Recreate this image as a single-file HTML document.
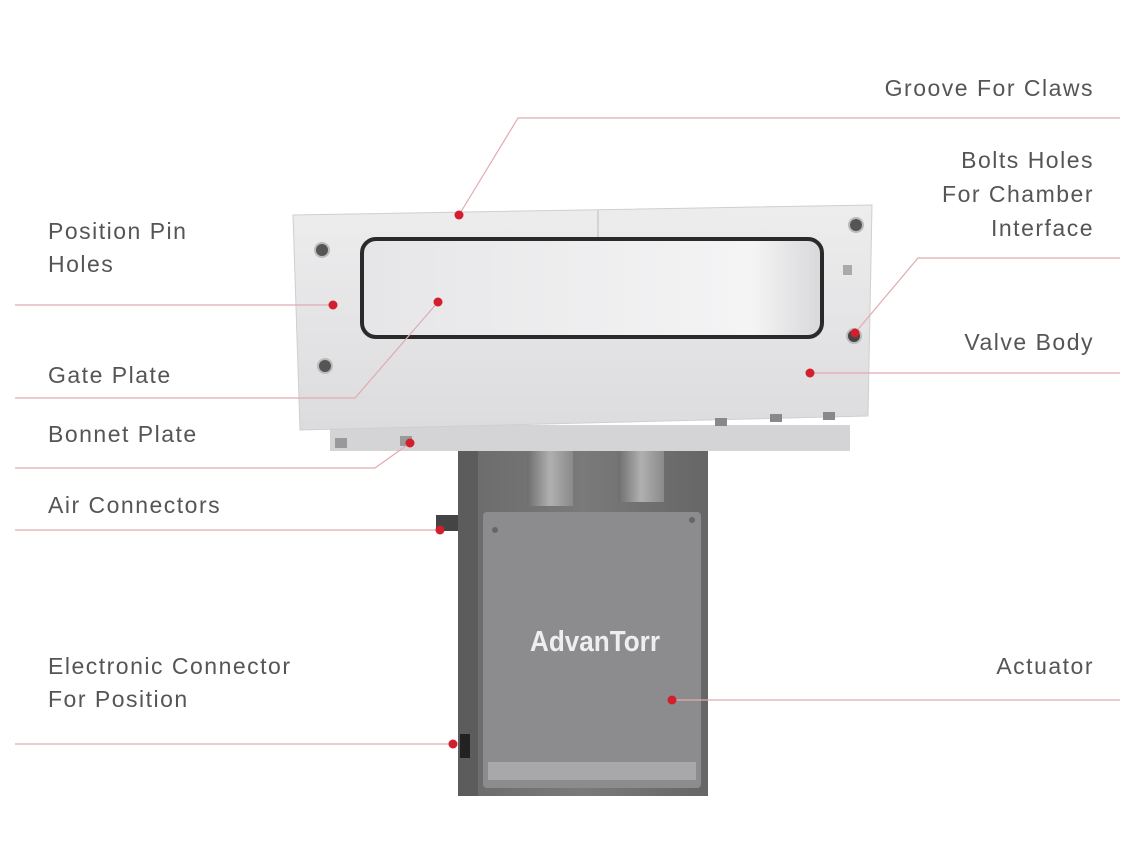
<!DOCTYPE html>
<html><head><style>
html,body{margin:0;padding:0;background:#fff;}
svg{display:block;}
text{font-family:"Liberation Sans",sans-serif;font-size:23px;fill:#555;letter-spacing:1.5px;}
</style></head><body>
<svg width="1134" height="859" viewBox="0 0 1134 859" xmlns="http://www.w3.org/2000/svg">
<defs>
<linearGradient id="body" x1="0" y1="0" x2="0" y2="1">
<stop offset="0" stop-color="#ededee"/><stop offset="1" stop-color="#dcdcde"/>
</linearGradient>
<linearGradient id="win" x1="0" y1="0" x2="1" y2="0">
<stop offset="0" stop-color="#e6e6e8"/><stop offset="0.85" stop-color="#f4f4f5"/><stop offset="1" stop-color="#d8d8da"/>
</linearGradient>
<linearGradient id="act" x1="0" y1="0" x2="1" y2="0">
<stop offset="0" stop-color="#6a6a6a"/><stop offset="0.5" stop-color="#7a7a7a"/><stop offset="1" stop-color="#666"/>
</linearGradient>
<linearGradient id="cyl" x1="0" y1="0" x2="1" y2="0">
<stop offset="0" stop-color="#6e6e6e"/><stop offset="0.5" stop-color="#b0b0b0"/><stop offset="1" stop-color="#8a8a8a"/>
</linearGradient>
</defs>

<rect x="458" y="438" width="250" height="358" fill="url(#act)"/>
<rect x="458" y="438" width="20" height="358" fill="#5c5c5c"/>
<rect x="527" y="440" width="46" height="66" fill="url(#cyl)"/>
<rect x="618" y="440" width="46" height="62" fill="url(#cyl)"/>
<rect x="483" y="512" width="218" height="276" rx="4" fill="#8c8c8e"/>
<rect x="488" y="762" width="208" height="18" fill="#a8a8aa"/>
<circle cx="495" cy="530" r="3" fill="#666"/><circle cx="692" cy="520" r="3" fill="#666"/>
<text x="530" y="651" style="font-size:29px;fill:#eeeeee;letter-spacing:0px;font-weight:bold" textLength="130" lengthAdjust="spacingAndGlyphs">AdvanTorr</text>
<rect x="436" y="515" width="22" height="16" fill="#444"/>
<rect x="460" y="734" width="10" height="24" fill="#222"/>

<rect x="330" y="425" width="520" height="26" fill="#d4d4d6"/>
<polygon points="293,215 872,205 868,416 300,430" fill="url(#body)" stroke="#cfcfd2"/>
<line x1="598" y1="210" x2="598" y2="245" stroke="#bbb"/>
<rect x="362" y="239" width="460" height="98" rx="14" fill="url(#win)" stroke="#2a2a2a" stroke-width="4"/>
<circle cx="322" cy="250" r="7" fill="#555" stroke="#bbb" stroke-width="2"/>
<circle cx="325" cy="366" r="7" fill="#555" stroke="#bbb" stroke-width="2"/>
<circle cx="856" cy="225" r="7" fill="#555" stroke="#bbb" stroke-width="2"/>
<rect x="843" y="265" width="9" height="10" fill="#aaa"/>
<circle cx="854" cy="336" r="7" fill="#444" stroke="#bbb" stroke-width="2"/>
<rect x="715" y="418" width="12" height="8" fill="#888"/><rect x="770" y="414" width="12" height="8" fill="#888"/><rect x="823" y="412" width="12" height="8" fill="#888"/>
<rect x="335" y="438" width="12" height="10" fill="#999"/><rect x="400" y="436" width="12" height="10" fill="#999"/>

<g stroke="#e2aab0" stroke-width="1.2" fill="none">
<polyline points="1120,118 518,118 459,215"/>
<polyline points="1120,258 918,258 855,333"/>
<polyline points="1120,373 810,373"/>
<polyline points="15,305 333,305"/>
<polyline points="15,398 355,398 438,302"/>
<polyline points="15,468 375,468 410,443"/>
<polyline points="15,530 440,530"/>
<polyline points="15,744 453,744"/>
<polyline points="1120,700 672,700"/>
</g>
<g fill="#d21f2d">
<circle cx="459" cy="215" r="4.5"/><circle cx="855" cy="333" r="4.5"/><circle cx="810" cy="373" r="4.5"/>
<circle cx="333" cy="305" r="4.5"/><circle cx="438" cy="302" r="4.5"/><circle cx="410" cy="443" r="4.5"/>
<circle cx="440" cy="530" r="4.5"/><circle cx="453" cy="744" r="4.5"/><circle cx="672" cy="700" r="4.5"/>
</g>

<g text-anchor="end">
<text x="1094" y="96">Groove For Claws</text>
<text x="1094" y="168">Bolts Holes</text>
<text x="1094" y="202">For Chamber</text>
<text x="1094" y="236">Interface</text>
<text x="1094" y="350">Valve Body</text>
<text x="1094" y="674">Actuator</text>
</g>
<text x="48" y="239">Position Pin</text>
<text x="48" y="272">Holes</text>
<text x="48" y="383">Gate Plate</text>
<text x="48" y="442">Bonnet Plate</text>
<text x="48" y="513">Air Connectors</text>
<text x="48" y="674">Electronic Connector</text>
<text x="48" y="707">For Position</text>
</svg>
</body></html>
